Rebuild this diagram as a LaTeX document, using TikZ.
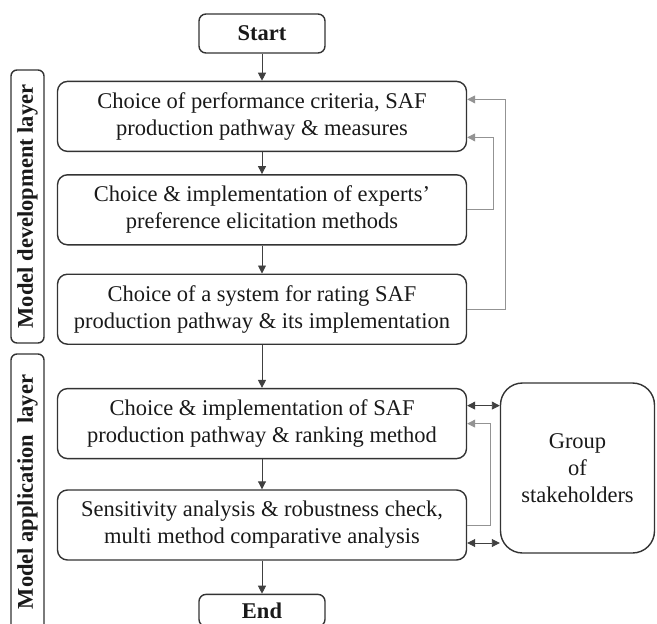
\documentclass[tikz,border=0pt]{standalone}
\usepackage{fontspec}
\setmainfont{Liberation Serif}
\usetikzlibrary{positioning,arrows.meta}

\begin{document}
\begin{tikzpicture}[x=1pt, y=-1pt, node distance=27pt, thick,
    main/.style = {draw=black!80, line width=1.4pt, rounded corners=10pt, minimum width=409pt, minimum height=70pt,
        inner sep=0pt, align=center, text=black!90, font=\fontsize{22.5}{27}\selectfont},
    term/.style = {main, minimum width=126pt, minimum height=39pt, rounded corners=7pt, font=\fontsize{22.5}{27}\selectfont\bfseries},
    layer/.style = {draw=black!80, line width=1.4pt, rounded corners=6pt, minimum height=33pt, inner sep=0pt,
        rotate=90, text=black!90, font=\fontsize{22.5}{27}\selectfont\bfseries},
    flow/.style = {-{Triangle[length=8pt, width=8pt]}, black!75, line width=0.9pt},
    back/.style = {flow, gray!85},
    both/.style = {{Triangle[length=8pt, width=8pt]}-{Triangle[length=8pt, width=8pt]}, black!75, line width=0.9pt}]

    \useasboundingbox (0,0) rectangle (657,624);

    \node[term] (start) at (262,33.5) {Start};
    \node[main] (crit) [below=27pt of start] {Choice of performance criteria, SAF\\production pathway \& measures};
    \node[main] (pref) [below=22pt of crit] {Choice \& implementation of experts'\\preference elicitation methods};
    \node[main] (rate) [below=28pt of pref] {Choice of a system for rating SAF\\production pathway \& its implementation};
    \node[main] (rank) [below=43pt of rate] {Choice \& implementation of SAF\\production pathway \& ranking method};
    \node[main] (sens) [below=30pt of rank] {Sensitivity analysis \& robustness check,\\multi method comparative analysis};
    \node[term, minimum height=32pt] (end) [below=33pt of sens] {End};

    \node[main, minimum width=154pt, minimum height=170pt, rounded corners=22pt] (group) at (577.5,468) {Group\\of\\stakeholders};

    \node[layer, minimum width=273pt] (dev) at (27.5,206.5) {Model development layer};
    \node[layer, minimum width=276pt] (app) at (27.5,492) {Model application\ \ layer};

    \draw[flow] (start) -- (crit);
    \draw[flow] (crit) -- (pref);
    \draw[flow] (pref) -- (rate);
    \draw[flow] (rate) -- (rank);
    \draw[flow] (rank) -- (sens);
    \draw[flow] (sens) -- (end);

    \draw[back] (pref.east) -- ++(26,0) |- ([yshift=-21pt]crit.east);
    \draw[back] (rate.east) -- ++(38,0) |- ([yshift=17pt]crit.east);
    \draw[back] (sens.east) -- ++(23,0) |- (rank.east);

    \draw[both] ([yshift=18pt]rank.east) -- ([yshift=18pt]rank.east -| group.west);
    \draw[both] ([yshift=-18pt]sens.east) -- ([yshift=-18pt]sens.east -| group.west);

\end{tikzpicture}
\end{document}
